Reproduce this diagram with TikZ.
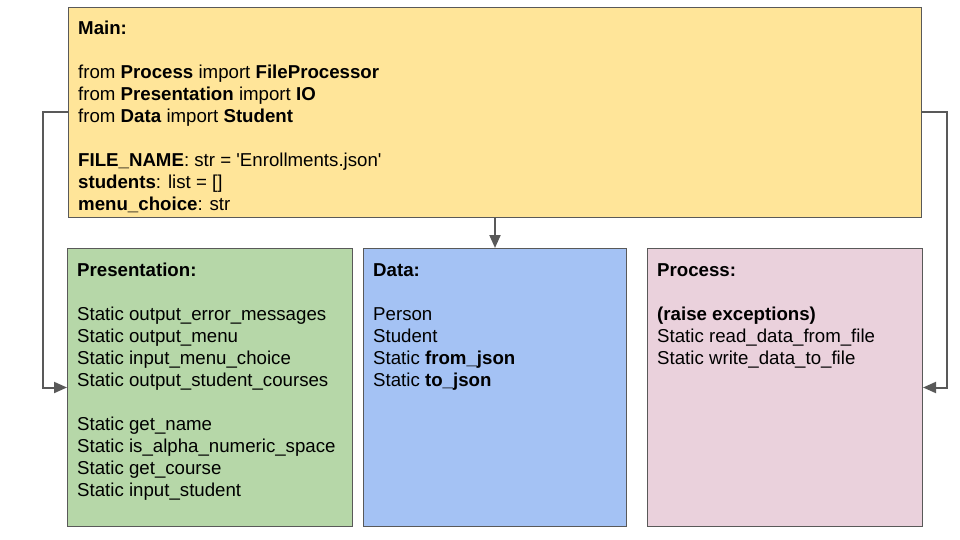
\documentclass[tikz,border=0pt]{standalone}
\usepackage{fontspec}
\setmainfont{Liberation Sans}
\usetikzlibrary{positioning}
\usetikzlibrary{arrows.meta}

\definecolor{mainyellow}{HTML}{FFE599}
\definecolor{presgreen}{HTML}{B6D7A8}
\definecolor{datablue}{HTML}{A4C2F4}
\definecolor{procpink}{HTML}{EAD1DC}
\definecolor{edgegray}{HTML}{595959}

\tikzset{
  box/.style={draw=edgegray, line width=1pt, rectangle, inner sep=0pt, minimum height=278pt},
  txt/.style={anchor=north west, align=left, inner sep=0pt,
    font=\fontsize{18.67}{22}\selectfont},
  link/.style={draw=edgegray, line width=2pt, -{Triangle[length=13pt,width=11pt]}}
}

\begin{document}
\begin{tikzpicture}[x=1pt,y=-1pt]
    \useasboundingbox (0,0) rectangle (960,540);
    \node [box, fill=mainyellow, minimum width=853pt, minimum height=210pt, anchor=north west] (main) at (68,7) {};
    \node [box, fill=datablue, minimum width=263pt, below=30pt of main] (data) {};
    \node [box, fill=presgreen, minimum width=285pt, left=10pt of data] (pres) {};
    \node [box, fill=procpink, minimum width=275pt, right=20pt of data] (proc) {};

    \node [txt] (maintxt) at ([shift={(10,14)}]main.north west) {\textbf{Main:}\\[22pt]
        from \textbf{Process} import \textbf{FileProcessor}\\
        from \textbf{Presentation} import \textbf{IO}\\
        from \textbf{Data} import \textbf{Student}\\[22pt]
        \textbf{FILE\_NAME}: str = \textquotesingle Enrollments.json\textquotesingle\\
        \textbf{students}: list = []\\
        \textbf{menu\_choice}: str};
    \node [txt] (prestxt) at ([shift={(10,15)}]pres.north west) {\textbf{Presentation:}\\[22pt]
        Static output\_error\_messages\\
        Static output\_menu\\
        Static input\_menu\_choice\\
        Static output\_student\_courses\\[22pt]
        Static get\_name\\
        Static is\_alpha\_numeric\_space\\
        Static get\_course\\
        Static input\_student};
    \node [txt] (datatxt) at ([shift={(10,15)}]data.north west) {\textbf{Data:}\\[22pt]
        Person\\
        Student\\
        Static \textbf{from\_json}\\
        Static \textbf{to\_json}};
    \node [txt] (proctxt) at ([shift={(10,15)}]proc.north west) {\textbf{Process:}\\[22pt]
        \textbf{(raise exceptions)}\\
        Static read\_data\_from\_file\\
        Static write\_data\_to\_file};

    \draw [link] (main.west) -- ++(-25,0) |- (pres.west);
    \draw [link] (main.east) -- ++(25,0) |- (proc.east);
    \draw [link] (main.south) -- (data.north);
\end{tikzpicture}
\end{document}
